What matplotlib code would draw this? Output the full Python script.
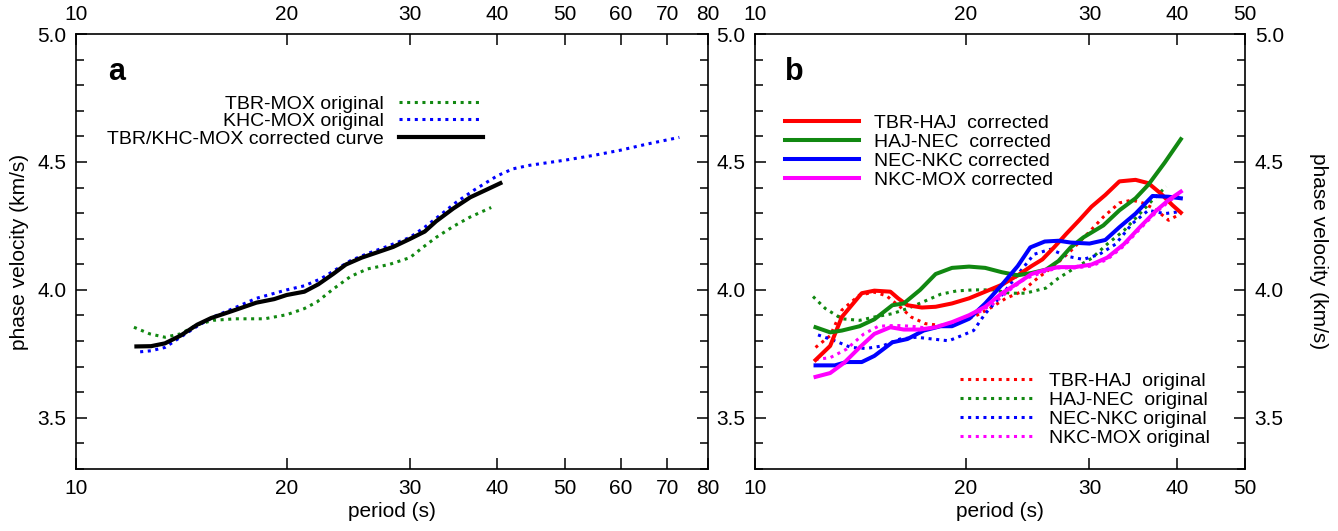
import numpy as np
import matplotlib.pyplot as plt
from matplotlib.ticker import FixedLocator, FixedFormatter, NullLocator, MultipleLocator

plt.rcParams['font.family'] = ['Liberation Sans', 'DejaVu Sans']

# ---- panel a data: period (s), phase velocity (km/s)
a_corr_T = [12.2, 12.8, 13.4, 14.1, 14.9, 15.6, 16.7, 18.1, 19.2, 20.0, 21.2, 22.2, 23.3, 24.3,
            25.6, 26.9, 28.4, 30.0, 31.5, 32.7, 34.6, 36.6, 38.7, 40.4]
a_corr_v = [3.779, 3.78, 3.791, 3.821, 3.864, 3.890, 3.917, 3.950, 3.964, 3.980, 3.993, 4.022,
            4.062, 4.099, 4.126, 4.146, 4.168, 4.199, 4.228, 4.268, 4.318, 4.362, 4.393, 4.417]
a_khc_T = [12.35, 12.8, 13.4, 14.1, 14.9, 15.7, 16.7, 18.1, 20.0, 21.2, 22.4, 23.5, 24.7, 26.1,
           27.6, 30.0, 31.5, 33.1, 35.0, 37.1, 40.0, 42.1, 44.5, 50.0, 55.0, 60.0, 65.5, 72.8]
a_khc_v = [3.758, 3.762, 3.775, 3.815, 3.858, 3.894, 3.925, 3.967, 4.0, 4.016, 4.044, 4.079,
           4.115, 4.142, 4.166, 4.205, 4.245, 4.291, 4.344, 4.391, 4.446, 4.473, 4.487, 4.507,
           4.526, 4.546, 4.570, 4.596]
a_tbr_T = [12.1, 12.75, 13.4, 14.1, 14.9, 15.7, 16.9, 18.6, 20.0, 21.2, 22.1, 23.3, 24.7, 26.1,
           28.0, 30.0, 31.3, 32.7, 34.6, 36.6, 39.2]
a_tbr_v = [3.854, 3.828, 3.815, 3.828, 3.864, 3.881, 3.887, 3.887, 3.903, 3.927, 3.953, 4.003,
           4.053, 4.082, 4.099, 4.126, 4.166, 4.205, 4.248, 4.285, 4.322]

# ---- panel b data, corrected curves
b_red_T = [12.2, 12.8, 13.3, 14.2, 14.8, 15.6, 16.0, 16.5, 17.3, 18.1, 19.1, 20.2, 21.3, 22.5,
           23.7, 24.8, 25.7, 26.7, 27.8, 29.0, 30.2, 31.6, 33.1, 34.9, 36.4, 37.9, 39.4, 40.5]
b_red_v = [3.726, 3.781, 3.894, 3.987, 3.997, 3.993, 3.967, 3.940, 3.931, 3.934, 3.947, 3.967,
           3.993, 4.020, 4.057, 4.093, 4.119, 4.166, 4.219, 4.272, 4.325, 4.371, 4.424, 4.430,
           4.417, 4.377, 4.331, 4.302]
b_grn_T = [12.2, 12.8, 13.3, 14.1, 14.8, 15.7, 16.3, 17.2, 18.1, 19.1, 20.2, 21.3, 22.5, 23.7,
           24.8, 26.0, 27.1, 28.2, 29.4, 31.4, 33.1, 34.9, 36.4, 38.4, 40.5]
b_grn_v = [3.854, 3.834, 3.841, 3.858, 3.885, 3.940, 3.947, 4.0, 4.062, 4.086, 4.091, 4.086,
           4.069, 4.057, 4.066, 4.079, 4.113, 4.166, 4.205, 4.252, 4.311, 4.358, 4.411, 4.497,
           4.589]
b_blu_T = [12.2, 13.0, 13.5, 14.2, 14.8, 15.7, 16.5, 17.4, 18.4, 19.1, 20.2, 21.3, 22.5, 23.7,
           24.7, 25.9, 27.1, 28.2, 30.0, 31.6, 33.1, 34.9, 36.9, 38.9, 40.5]
b_blu_v = [3.705, 3.705, 3.718, 3.718, 3.742, 3.795, 3.808, 3.841, 3.858, 3.858, 3.887, 3.947,
           4.020, 4.093, 4.166, 4.189, 4.192, 4.185, 4.181, 4.195, 4.245, 4.298, 4.367, 4.364,
           4.358]
b_mag_T = [12.2, 12.8, 13.4, 14.1, 14.8, 15.6, 16.3, 17.2, 18.1, 19.1, 20.2, 21.3, 22.5, 23.7,
           24.8, 26.0, 27.1, 28.6, 30.2, 31.8, 33.6, 35.4, 37.4, 38.9, 40.5]
b_mag_v = [3.660, 3.675, 3.715, 3.775, 3.828, 3.854, 3.845, 3.845, 3.854, 3.874, 3.901, 3.934,
           3.987, 4.026, 4.062, 4.079, 4.089, 4.089, 4.099, 4.126, 4.179, 4.245, 4.311, 4.351,
           4.384]

# ---- panel b data, original curves
b_red_o_T = [12.2, 12.8, 13.3, 14.1, 14.8, 15.4, 16.1, 16.7, 17.5, 18.4, 19.4, 20.5, 21.6, 22.8,
             24.0, 25.3, 26.7, 28.2, 29.8, 31.4, 33.1, 34.5, 35.9, 37.4, 38.9, 40.5]
b_red_o_v = [3.775, 3.821, 3.921, 3.980, 3.991, 3.977, 3.934, 3.894, 3.868, 3.861, 3.874, 3.894,
             3.927, 3.967, 3.993, 4.046, 4.093, 4.152, 4.219, 4.285, 4.340, 4.351, 4.338, 4.311,
             4.272, 4.298]
b_grn_o_T = [12.1, 12.6, 13.3, 14.1, 14.8, 15.7, 16.5, 17.4, 18.4, 19.4, 20.5, 21.9, 23.1, 24.3,
             26.0, 27.1, 28.6, 30.2, 31.8, 33.6, 35.4, 36.9, 38.6]
b_grn_o_v = [3.974, 3.927, 3.887, 3.881, 3.894, 3.907, 3.927, 3.954, 3.983, 3.996, 4.0, 4.0,
             3.987, 3.987, 4.007, 4.046, 4.086, 4.123, 4.179, 4.232, 4.298, 4.351, 4.404]
b_blu_o_T = [12.3, 13.0, 13.7, 14.4, 15.2, 16.1, 17.0, 17.9, 18.9, 19.7, 20.5, 21.3, 22.5, 23.7,
             25.0, 26.4, 27.8, 29.4, 31.0, 32.7, 34.5, 36.4, 38.4, 40.2]
b_blu_o_v = [3.824, 3.801, 3.775, 3.771, 3.781, 3.808, 3.815, 3.808, 3.801, 3.821, 3.841, 3.907,
             3.980, 4.060, 4.139, 4.159, 4.132, 4.119, 4.139, 4.179, 4.258, 4.311, 4.298, 4.305]
b_mag_o_T = [12.2, 12.8, 13.5, 14.3, 15.0, 15.9, 16.7, 17.7, 18.6, 19.7, 20.7, 21.9, 23.1, 24.3,
             26.0, 27.1, 28.6, 30.2, 31.8, 33.6, 35.4, 37.4, 38.9, 40.5]
b_mag_o_v = [3.728, 3.735, 3.768, 3.828, 3.858, 3.861, 3.858, 3.850, 3.861, 3.881, 3.907, 3.947,
             4.0, 4.044, 4.073, 4.086, 4.086, 4.093, 4.119, 4.172, 4.238, 4.305, 4.344, 4.381]

xticks_a = [10, 20, 30, 40, 50, 60, 70, 80]
xticks_b = [10, 20, 30, 40, 50]

RED, GRN, BLU, MAG = '#ff0000', '#118811', '#0000ff', '#ff00ff'
DOT = (0, (1, 1.5))
FS = 15

fig = plt.figure(figsize=(13.38, 5.31), dpi=100)
ax1 = fig.add_axes([76 / 1338, 62 / 531, 632 / 1338, 435 / 531])
ax2 = fig.add_axes([755 / 1338, 62 / 531, 490 / 1338, 435 / 531])


def style(ax, ticks, right_labels):
    ax.set_xscale('log')
    ax.set_xlim(ticks[0], ticks[-1])
    ax.set_ylim(3.3, 5.0)
    ax.xaxis.set_major_locator(FixedLocator(ticks))
    ax.xaxis.set_major_formatter(FixedFormatter([str(t) for t in ticks]))
    ax.xaxis.set_minor_locator(NullLocator())
    ax.yaxis.set_major_locator(MultipleLocator(0.5))
    ax.yaxis.set_minor_locator(MultipleLocator(0.1))
    ax.yaxis.set_major_formatter(plt.FormatStrFormatter('%.1f'))
    ax.tick_params(which='both', direction='in', top=True, right=True, labeltop=True,
                   labelright=right_labels, labelsize=FS, width=1.1)
    ax.tick_params(which='major', length=8, pad=7)
    ax.tick_params(which='minor', length=5.5)
    for s in ax.spines.values():
        s.set_linewidth(1.2)
    ax.set_xlabel('period (s)', fontsize=FS)
    ax.xaxis.set_label_coords(0.5, -0.075)


style(ax1, xticks_a, False)
style(ax2, xticks_b, True)

ax1.plot(a_tbr_T, a_tbr_v, color=GRN, lw=2.2, ls=DOT, label='TBR-MOX original')
ax1.plot(a_khc_T, a_khc_v, color=BLU, lw=2.2, ls=DOT, label='KHC-MOX original')
ax1.plot(a_corr_T, a_corr_v, color='black', lw=3.0, label='TBR/KHC-MOX corrected curve')
ax1.legend(loc='upper right', bbox_to_anchor=((483 - 76) / 632, (469 - 95) / 435),
           borderaxespad=0, borderpad=0, frameon=False, markerfirst=False, fontsize=14,
           handlelength=4.3, handletextpad=0.8, labelspacing=0.0)
ax1.set_ylabel('phase velocity (km/s)', fontsize=FS)
ax1.yaxis.set_label_coords(-0.075, 0.5)
ax1.text((108 - 76) / 632, (469 - 80) / 435, 'a', transform=ax1.transAxes,
         fontsize=22, fontweight='bold', va='baseline')

lo = []
lo += ax2.plot(b_red_o_T, b_red_o_v, color=RED, lw=2.2, ls=DOT, label='TBR-HAJ  original')
lo += ax2.plot(b_grn_o_T, b_grn_o_v, color=GRN, lw=2.2, ls=DOT, label='HAJ-NEC  original')
lo += ax2.plot(b_blu_o_T, b_blu_o_v, color=BLU, lw=2.2, ls=DOT, label='NEC-NKC original')
lo += ax2.plot(b_mag_o_T, b_mag_o_v, color=MAG, lw=2.2, ls=DOT, label='NKC-MOX original')
lc = []
lc += ax2.plot(b_red_T, b_red_v, color=RED, lw=2.9, label='TBR-HAJ  corrected')
lc += ax2.plot(b_grn_T, b_grn_v, color=GRN, lw=2.9, label='HAJ-NEC  corrected')
lc += ax2.plot(b_blu_T, b_blu_v, color=BLU, lw=2.9, label='NEC-NKC corrected')
lc += ax2.plot(b_mag_T, b_mag_v, color=MAG, lw=2.9, label='NKC-MOX corrected')

leg1 = ax2.legend(handles=lc, loc='upper left', bbox_to_anchor=(30 / 490, (469 - 114) / 435),
                  borderaxespad=0, borderpad=0, frameon=False, fontsize=14,
                  handlelength=3.8, handletextpad=0.8, labelspacing=0.07)
ax2.add_artist(leg1)
ax2.legend(handles=lo, loc='upper left', bbox_to_anchor=((960 - 755) / 490, (469 - 372) / 435),
           borderaxespad=0, borderpad=0, frameon=False, fontsize=14,
           handlelength=3.8, handletextpad=0.8, labelspacing=0.07)
ax2.yaxis.set_label_position('right')
ax2.set_ylabel('phase velocity (km/s)', fontsize=FS, rotation=-90, va='center')
ax2.yaxis.set_label_coords(1.149, 0.5)
ax2.text(30 / 490, (469 - 80) / 435, 'b', transform=ax2.transAxes,
         fontsize=22, fontweight='bold', va='baseline')

fig.savefig('out.png', dpi=100)
